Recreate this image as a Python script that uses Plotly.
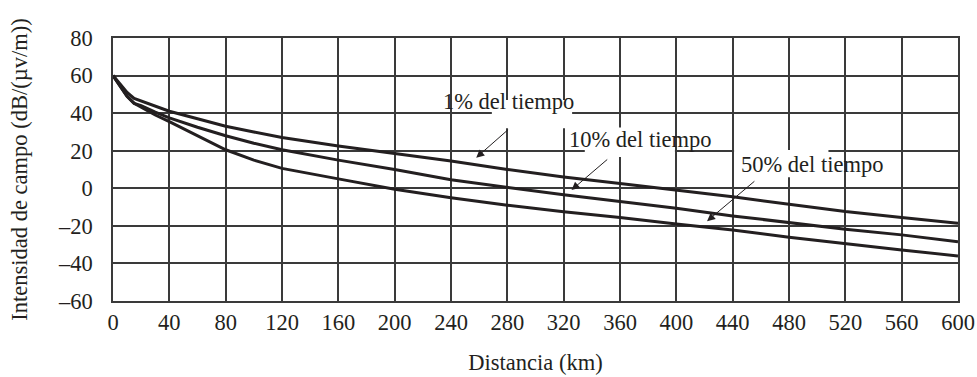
import plotly.graph_objects as go

# ---- data ----
distance_km = [0, 5, 10, 15, 20, 30, 40, 60, 80, 100, 120, 160, 200, 240, 280, 320,
               360, 400, 440, 480, 520, 560, 600]
pct1 = [60, 55.5, 51, 47.8, 46.5, 44, 41, 37, 33, 30, 27, 22.5, 18.5, 14.5, 10, 6,
        2.5, -1, -4.5, -8.5, -12.4, -15.6, -18.6]
pct10 = [60, 54.5, 49, 45.2, 44, 40.5, 37.5, 32.5, 28, 24, 20.5, 15, 10, 4.5, 0.5, -3.5,
         -7, -10.6, -14.7, -18.3, -21.8, -24.8, -28.4]
pct50 = [60, 54.5, 49, 45.2, 43.2, 39, 35.5, 28, 20.5, 15, 10.6, 5, -0.5, -5, -9, -12.5,
         -15.5, -19, -22.2, -26.1, -29.6, -32.8, -36]

x_ticks = [0, 40, 80, 120, 160, 200, 240, 280, 320, 360, 400, 440, 480, 520, 560, 600]
y_ticks = [-60, -40, -20, 0, 20, 40, 60, 80]
y_ticktext = ["–60", "–40", "–20", "0", "20", "40", "60", "80"]

labels = ["1% del tiempo", "10% del tiempo", "50% del tiempo"]
label_pos = [(281, 46), (374.5, 26.2), (496, 12.4)]
label_mask = [(269, 326, 32, 47), (335, 399, 16.6, 32.3), (441, 508, 5.9, 20.4)]
arrows = [((281.6, 31.9), (257.9, 16.3)),
          ((352, 16), (325.6, -0.9)),
          ((456.5, 4.4), (421.8, -17.5))]

FONT = "Liberation Serif, Times New Roman, serif"
INK = "#231f20"
FS = 22.5

fig = go.Figure()
for ys in (pct1, pct10, pct50):
    fig.add_trace(go.Scatter(x=distance_km, y=ys, mode="lines",
                             line=dict(color=INK, width=3), showlegend=False))

shapes = []
for (x0, x1, y0, y1) in label_mask:
    shapes.append(dict(type="rect", xref="x", yref="y", x0=x0, x1=x1, y0=y0, y1=y1,
                       fillcolor="white", line=dict(width=0), layer="between"))

annotations = []
for text, (tx, ty) in zip(labels, label_pos):
    annotations.append(dict(x=tx, y=ty, xref="x", yref="y", text=text, showarrow=False,
                            font=dict(family=FONT, size=FS, color=INK)))
for (start, head) in arrows:
    annotations.append(dict(x=head[0], y=head[1], ax=start[0], ay=start[1],
                            xref="x", yref="y", axref="x", ayref="y", text="",
                            showarrow=True, arrowhead=2, arrowsize=1.6, arrowwidth=1,
                            arrowcolor=INK))

fig.update_layout(
    width=977, height=377,
    margin=dict(l=113, r=19, t=38, b=76),
    paper_bgcolor="white", plot_bgcolor="white",
    font=dict(family=FONT, size=FS, color=INK),
    shapes=shapes, annotations=annotations,
    xaxis=dict(range=[0, 600], tickvals=x_ticks, showgrid=True, gridcolor="#3a3a3a",
               gridwidth=1.5, showline=True, linecolor="#3a3a3a", linewidth=1.5,
               mirror=True, zeroline=False, ticks="", ticklabelstandoff=0,
               automargin=False, tickfont=dict(family=FONT, size=FS),
               title=dict(text="Distancia (km)", standoff=20,
                          font=dict(family=FONT, size=FS))),
    yaxis=dict(range=[-60, 80], tickvals=y_ticks, ticktext=y_ticktext, showgrid=True,
               gridcolor="#3a3a3a", gridwidth=1.5, showline=True, linecolor="#3a3a3a",
               linewidth=1.5, mirror=True, zeroline=False, ticks="", ticklabelstandoff=14,
               automargin=False, tickfont=dict(family=FONT, size=FS),
               title=dict(text="Intensidad de campo (dB/(µv/m))", standoff=24,
                          font=dict(family=FONT, size=FS))),
)

fig.write_html("out.html")
